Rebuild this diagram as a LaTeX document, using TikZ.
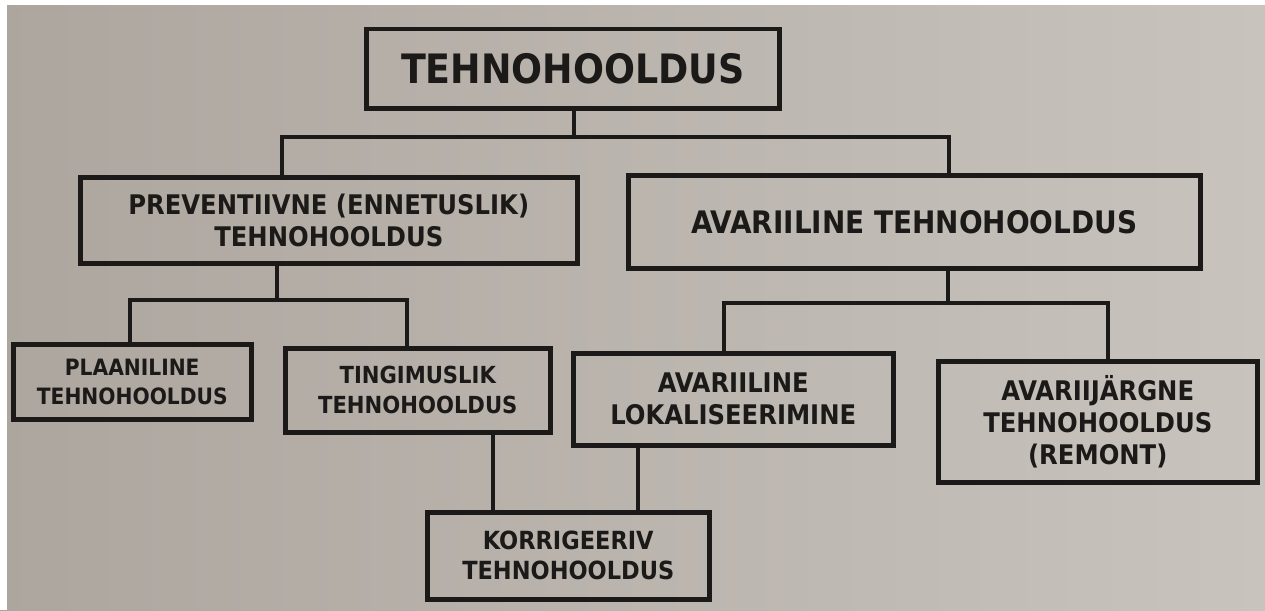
\documentclass[tikz,border=0pt]{standalone}
\usepackage{fontspec}
\setmainfont{DejaVu Sans Condensed}
\definecolor{ink}{HTML}{1C1A19}
\definecolor{paperL}{HTML}{ADA69F}
\definecolor{paperR}{HTML}{C8C3BD}
\begin{document}
\begin{tikzpicture}[x=1pt,y=-1pt,
  box/.style={draw=ink, line width=4.5pt, inner sep=0pt, align=center, anchor=north west, text=ink},
  conn/.style={draw=ink, line width=3.6pt, line cap=rect}]
\useasboundingbox (0,0) rectangle (1265,610);
\shade[left color=paperL, right color=paperR] (0,0) rectangle (1265,610);
\fill[white] (0,0) rectangle (1265,5);
\fill[white] (0,0) rectangle (7,610);

\node[box, minimum width=413pt, minimum height=79pt, font=\bfseries\fontsize{40.5}{48}\selectfont] (title) at (364,27) {TEHNOHOOLDUS};
\node[box, minimum width=497pt, minimum height=86pt, font=\bfseries\fontsize{27}{32}\selectfont] (prev) at (78,175) {PREVENTIIVNE (ENNETUSLIK)\\ TEHNOHOOLDUS};
\node[box, minimum width=572pt, minimum height=93pt, font=\bfseries\fontsize{31}{36}\selectfont] (avar) at (626,173) {AVARIILINE TEHNOHOOLDUS};
\node[box, minimum width=238pt, minimum height=75pt, font=\bfseries\fontsize{22.5}{29}\selectfont] (plaan) at (11,342) {PLAANILINE\\ TEHNOHOOLDUS};
\node[box, minimum width=265pt, minimum height=84pt, font=\bfseries\fontsize{23.5}{30}\selectfont] (tingi) at (283,346) {TINGIMUSLIK\\ TEHNOHOOLDUS};
\node[box, minimum width=320pt, minimum height=92pt, font=\bfseries\fontsize{27}{32}\selectfont] (lokal) at (571,351) {AVARIILINE\\ LOKALISEERIMINE};
\node[box, minimum width=319pt, minimum height=121pt, font=\bfseries\fontsize{27}{32}\selectfont] (jarg) at (936,359) {AVARIIJÄRGNE\\ TEHNOHOOLDUS\\ (REMONT)};
\node[box, minimum width=282pt, minimum height=87pt, font=\bfseries\fontsize{25}{30}\selectfont] (korr) at (425,510) {KORRIGEERIV\\ TEHNOHOOLDUS};

\coordinate (s1) at (574,137);
\coordinate (l1) at (282,137);
\coordinate (r1) at (949,137);
\draw[conn] (title.south -| s1) -- (s1);
\draw[conn] (prev.north -| l1) -- (l1) -- (r1) -- (avar.north -| r1);

\coordinate (s2) at (277,300);
\coordinate (l2) at (130,300);
\coordinate (r2) at (407,300);
\draw[conn] (prev.south -| s2) -- (s2);
\draw[conn] (plaan.north -| l2) -- (l2) -- (r2) -- (tingi.north -| r2);

\coordinate (s3) at (948,303);
\coordinate (l3) at (724,303);
\coordinate (r3) at (1108,303);
\draw[conn] (avar.south -| s3) -- (s3);
\draw[conn] (lokal.north -| l3) -- (l3) -- (r3) -- (jarg.north -| r3);

\coordinate (k1) at (493,470);
\coordinate (k2) at (638,470);
\draw[conn] (tingi.south -| k1) -- (korr.north -| k1);
\draw[conn] (lokal.south -| k2) -- (korr.north -| k2);
\end{tikzpicture}
\end{document}
